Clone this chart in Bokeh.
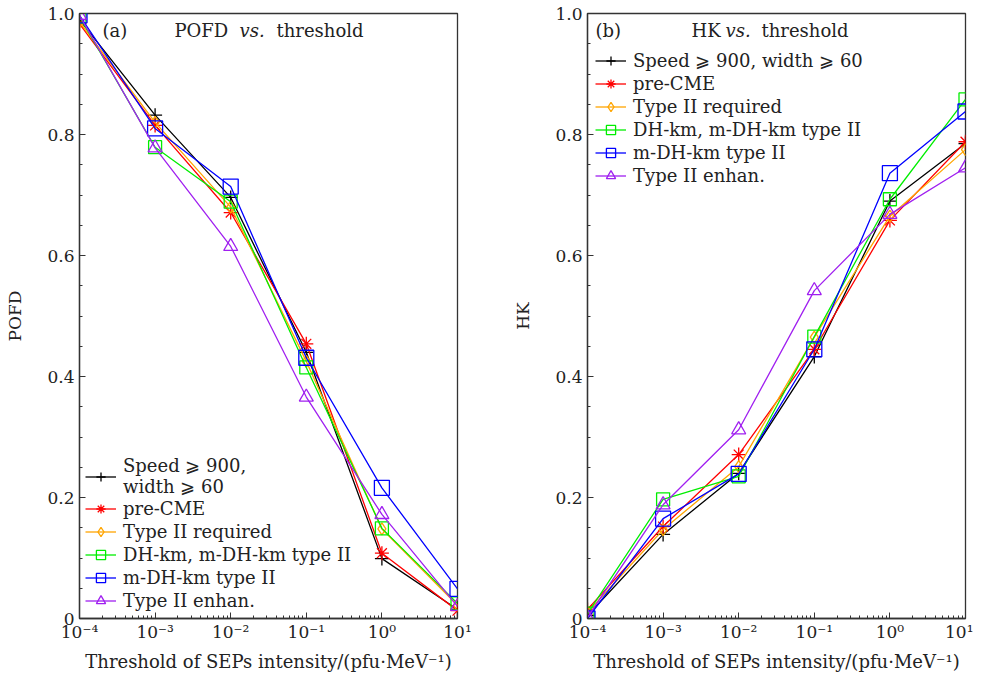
from bokeh.plotting import figure
from bokeh.models import (Legend, LegendItem, Label, FixedTicker,
                          CustomJSTickFormatter)
from bokeh.layouts import row
from bokeh.embed import file_html
from bokeh.resources import INLINE

# ---------------- data ----------------
thresholds = [1e-4, 1e-3, 1e-2, 1e-1, 1e0, 1e1]

series_names = ["Speed \u2a7e 900,\nwidth \u2a7e 60", "pre-CME", "Type II required",
                "DH-km, m-DH-km type II", "m-DH-km type II", "Type II enhan."]
series_names_b = ["Speed \u2a7e 900, width \u2a7e 60", "pre-CME", "Type II required",
                  "DH-km, m-DH-km type II", "m-DH-km type II", "Type II enhan."]

pofd_speed = [0.990, 0.832, 0.696, 0.440, 0.099, 0.015]
pofd_precme = [0.983, 0.815, 0.671, 0.454, 0.108, 0.013]
pofd_type2 = [0.986, 0.820, 0.680, 0.425, 0.148, 0.022]
pofd_dhkm = [0.995, 0.779, 0.689, 0.415, 0.149, 0.025]
pofd_mdhkm = [0.997, 0.810, 0.714, 0.431, 0.216, 0.049]
pofd_enhan = [0.997, 0.778, 0.615, 0.366, 0.172, 0.020]

hk_speed = [0.005, 0.139, 0.240, 0.433, 0.690, 0.785]
hk_precme = [0.015, 0.152, 0.271, 0.445, 0.658, 0.788]
hk_type2 = [0.010, 0.147, 0.251, 0.465, 0.665, 0.775]
hk_dhkm = [0.008, 0.197, 0.235, 0.466, 0.693, 0.858]
hk_mdhkm = [0.000, 0.165, 0.239, 0.445, 0.736, 0.838]
hk_enhan = [0.002, 0.188, 0.312, 0.542, 0.668, 0.745]

y_ticks = [0, 0.2, 0.4, 0.6, 0.8, 1.0]

# ---------------- styles ----------------
colors = ["#000000", "#ff0000", "#ffa500", "#00ee00", "#0000ff", "#a020f0"]
markers = ["cross", "asterisk", "diamond", "square", "square", "triangle"]
msizes = [14, 14, 12, 13, 15, 14]
FONT = "DejaVu Serif"
TXT = "#222222"


def make_panel(ydata, names, ylabel, tag, head, ttl_x, legend_loc):
    p = figure(x_axis_type="log", x_range=(1e-4, 10), y_range=(0, 1),
               frame_width=378, frame_height=605,
               min_border_left=79, min_border_right=8, min_border_top=13,
               min_border_bottom=50,
               output_backend="svg", toolbar_location=None)
    p.background_fill_color = "white"
    p.border_fill_color = "white"
    p.outline_line_color = "#333333"
    p.outline_line_width = 1.3
    p.xgrid.visible = False
    p.ygrid.visible = False

    minor = [k * 10.0 ** e for e in range(-4, 1) for k in range(2, 10)]
    p.xaxis.ticker = FixedTicker(ticks=thresholds, minor_ticks=minor)
    p.xaxis.formatter = CustomJSTickFormatter(code="""
        const sup = {"-":"\u207b","0":"\u2070","1":"\u00b9","2":"\u00b2","3":"\u00b3",
                     "4":"\u2074","5":"\u2075","6":"\u2076","7":"\u2077","8":"\u2078","9":"\u2079"};
        const e = Math.round(Math.log10(tick));
        return "10" + String(e).split("").map(c => sup[c]).join("");
    """)
    yminor = [i * 0.05 for i in range(21)]
    p.yaxis.ticker = FixedTicker(ticks=y_ticks, minor_ticks=yminor)
    p.yaxis.formatter = CustomJSTickFormatter(
        code="return tick == 0 ? '0' : tick.toFixed(1);")

    for ax in (p.xaxis, p.yaxis):
        ax.major_tick_in = 6
        ax.major_tick_out = 0
        ax.minor_tick_in = 3
        ax.minor_tick_out = 0
        ax.axis_line_color = "#333333"
        ax.axis_line_width = 1.3
        ax.major_tick_line_color = "#333333"
        ax.minor_tick_line_color = "#333333"
        ax.major_label_text_font = FONT
        ax.major_label_text_font_size = "17px"
        ax.major_label_text_color = TXT
        ax.axis_label_text_font = FONT
        ax.axis_label_text_font_size = "18px"
        ax.axis_label_text_font_style = "normal"
        ax.axis_label_text_color = TXT
    p.yaxis.axis_label_text_font_size = "17px"
    p.xaxis.major_label_standoff = 3
    p.yaxis.major_label_standoff = 5
    p.xaxis.axis_label = "Threshold of SEPs intensity/(pfu\u00b7MeV\u207b\u00b9)"
    p.xaxis.axis_label_standoff = 6
    p.yaxis.axis_label = ylabel
    p.yaxis.axis_label_standoff = 19

    items = []
    for ys, name, c, m, s in zip(ydata, names, colors, markers, msizes):
        lr = p.line(thresholds, ys, line_color=c, line_width=1.3)
        sr = p.scatter(thresholds, ys, marker=m, size=s, line_color=c,
                       line_width=1.3, fill_alpha=0)
        items.append(LegendItem(label=name, renderers=[lr, sr]))

    leg = Legend(items=items, location=legend_loc, margin=0,
                 padding=0, spacing=0, glyph_width=31, glyph_height=23,
                 label_height=20, label_standoff=7,
                 label_text_font=FONT, label_text_font_size="18px",
                 label_text_color=TXT, label_text_line_height=1.3,
                 background_fill_alpha=0, border_line_alpha=0)
    p.add_layout(leg)

    # panel headline
    def lab(x, text, style="normal"):
        p.add_layout(Label(x=x, y=588, x_units="screen", y_units="screen",
                           text=text, text_font=FONT, text_font_size="18px",
                           text_font_style=style,
                           text_baseline="middle", text_color=TXT))
    lab(ttl_x[0], tag)
    lab(ttl_x[1], head)
    lab(ttl_x[2], "vs.", "italic")
    lab(ttl_x[3], "threshold")
    return p


pa = make_panel([pofd_speed, pofd_precme, pofd_type2, pofd_dhkm, pofd_mdhkm, pofd_enhan],
                series_names, "POFD", "(a)", "POFD", (23, 95, 160, 197), (6, 6))
pa.min_border_right = 51
pb = make_panel([hk_speed, hk_precme, hk_type2, hk_dhkm, hk_mdhkm, hk_enhan],
                series_names_b, "HK", "(b)", "HK", (8, 104, 138, 174), (8, 431))

layout = row(pa, pb, spacing=0)
open("out.html", "w").write(file_html(layout, INLINE))
